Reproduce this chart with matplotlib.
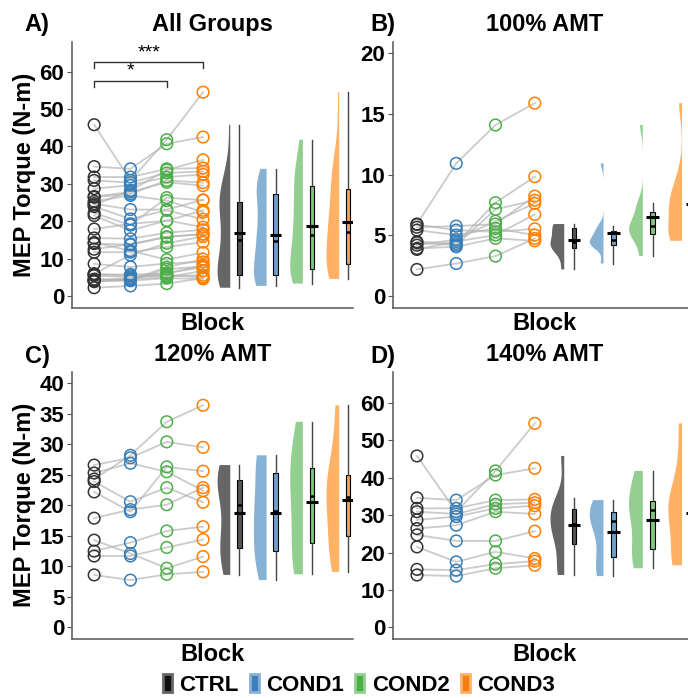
import numpy as np
import matplotlib.pyplot as plt
from matplotlib.patches import Patch

plt.rcParams['font.family'] = ['Liberation Sans', 'DejaVu Sans']
plt.rcParams['font.weight'] = 'bold'

conditions = ['CTRL', 'COND1', 'COND2', 'COND3']
point_colors = ['#333333', '#377EB8', '#4DAF4A', '#FF7F00']
violin_colors = ['#666666', '#87B2D4', '#94CF92', '#FFB266']
box_colors = ['#555555', '#6E9FCD', '#80C47C', '#F9A04F']
key_colors = ['#111111', '#3F7FBF', '#4DAF4A', '#F47F10']

# one list per condition (CTRL, COND1, COND2, COND3), same subject order in each
amt100 = [
    [5.94, 2.20, 5.90, 5.68, 5.44, 4.48, 4.40, 4.20, 3.93, 3.85],
    [10.94, 2.69, 5.44, 5.77, 5.03, 4.34, 4.20, 4.67, 4.07, 4.50],
    [14.10, 3.30, 5.30, 5.94, 5.58, 7.70, 7.15, 6.18, 4.76, 5.03],
    [15.90, 4.76, 5.55, 8.24, 5.03, 9.84, 7.90, 7.64, 4.56, 6.73],
]
amt120 = [
    [8.6, 11.7, 12.5, 14.3, 17.9, 22.2, 23.9, 24.3, 25.3, 26.6],
    [7.75, 11.7, 13.9, 12.1, 19.3, 18.95, 20.6, 28.2, 26.9, 27.8],
    [8.7, 13.1, 15.8, 9.7, 20.1, 26.3, 22.9, 33.7, 25.5, 30.4],
    [9.1, 14.4, 16.5, 11.6, 22.9, 25.6, 20.5, 36.4, 22.4, 29.5],
]
amt140 = [
    [45.8, 34.6, 31.8, 30.9, 28.7, 26.4, 24.7, 21.5, 15.5, 14.0],
    [30.9, 34.0, 31.8, 30.3, 29.6, 27.3, 23.1, 17.5, 15.3, 13.7],
    [41.8, 40.7, 34.0, 32.9, 31.8, 30.9, 23.1, 20.2, 16.9, 15.8],
    [54.5, 42.5, 34.2, 33.3, 32.5, 30.3, 25.7, 18.4, 17.7, 16.6],
]
all_groups = [a + b + c for a, b, c in zip(amt100, amt120, amt140)]


def draw_panel(ax, data, title, ylim, yticks):
    arr = np.array(data)
    x_pts = np.arange(1, 5)
    for subj in arr.T:
        ax.plot(x_pts, subj, color='#b5b5b5', lw=1.3, alpha=0.7, zorder=1)
    for i in range(4):
        vals = arr[i]
        ax.scatter(np.full(len(vals), x_pts[i]), vals, s=70, facecolors='none',
                   edgecolors=point_colors[i], linewidths=1.1, zorder=2)
        sd = vals.std(ddof=1)
        q1, q3 = np.percentile(vals, [25, 75])
        bw = 0.9 * min(sd, (q3 - q1) / 1.34) * len(vals) ** -0.2
        vp = ax.violinplot(vals, positions=[i + 4.75], widths=0.7, showextrema=False,
                           side='low', bw_method=bw / sd)
        for body in vp['bodies']:
            body.set_facecolor(violin_colors[i])
            body.set_edgecolor('none')
            body.set_alpha(1)
            body.set_zorder(2)
    bpos = np.arange(5, 9)
    bp = ax.boxplot(list(arr), positions=bpos, widths=0.12, patch_artist=True,
                    showfliers=False, showcaps=False,
                    boxprops=dict(edgecolor='black', linewidth=0.8),
                    whiskerprops=dict(color='#444444', linewidth=1.0),
                    medianprops=dict(color='black', linewidth=1.8), zorder=3)
    for patch, c in zip(bp['boxes'], box_colors):
        patch.set_facecolor(c)
    ax.hlines(arr.mean(axis=1), bpos - 0.16, bpos + 0.16, color='black', lw=2.2, zorder=5)

    ax.set_xlim(0.39, 8.13)
    ax.set_ylim(*ylim)
    ax.set_yticks(yticks)
    ax.set_xticks([])
    ax.set_xlabel('Block', fontsize=17, fontweight='bold', labelpad=3)
    ax.set_title(title, fontsize=17, fontweight='bold', pad=8)
    for side in ['top', 'right']:
        ax.spines[side].set_visible(False)
    for side in ['left', 'bottom']:
        ax.spines[side].set_color('#555555')
        ax.spines[side].set_linewidth(1.1)
    ax.tick_params(axis='y', labelsize=16, length=3.5, color='#555555', pad=2)
    for lab in ax.get_yticklabels():
        lab.set_fontweight('bold')


W, H = 688, 698
fig = plt.figure(figsize=(W / 100, H / 100), dpi=100)


def add_axes(left, right, top, bottom):
    return fig.add_axes([left / W, 1 - bottom / H, (right - left) / W, (bottom - top) / H])


axA = add_axes(72, 353, 41.7, 308.3)
axC = add_axes(72, 353, 371.7, 639)
axB = add_axes(393, 697, 41.7, 308.3)
axD = add_axes(393, 697, 371.7, 639)

draw_panel(axA, all_groups, 'All Groups', (-3.3, 68), range(0, 61, 10))
draw_panel(axB, amt100, '100% AMT', (-1.0, 20.96), range(0, 21, 5))
draw_panel(axC, amt120, '120% AMT', (-1.9, 41.9), range(0, 41, 5))
draw_panel(axD, amt140, '140% AMT', (-3.1, 68.3), range(0, 61, 10))

# significance brackets on the pooled panel
for x0, x1, y, label in [(1, 4, 62.5, '***'), (1, 3, 57.6, '*')]:
    axA.plot([x0, x0, x1, x1], [y - 1.6, y, y, y - 1.6], color='#333333', lw=1.0)
    axA.text((x0 + x1) / 2, y + 0.3, label, ha='center', va='bottom', fontsize=14,
             fontweight='normal')

for ax in (axA, axC):
    bb = ax.get_position()
    fig.text(25 / W, (bb.y0 + bb.y1) / 2, 'MEP Torque (N-m)', rotation=90,
             ha='center', va='center', fontsize=17, fontweight='bold')

for lab, x, y in [('A)', 37, 25), ('B)', 383, 25), ('C)', 37, 357), ('D)', 383, 357)]:
    fig.text(x / W, 1 - y / H, lab, ha='center', va='center', fontsize=17, fontweight='bold')

handles = [Patch(facecolor=key_colors[i], edgecolor=violin_colors[i], linewidth=2.0)
           for i in range(4)]
fig.legend(handles, conditions, loc='center', bbox_to_anchor=(359 / W, 1 - 685 / H),
           ncol=4, frameon=False, handlelength=0.4, handleheight=0.85, handletextpad=0.35,
           columnspacing=0.5, prop={'size': 16, 'weight': 'bold'})

fig.savefig('out.png', dpi=100)
